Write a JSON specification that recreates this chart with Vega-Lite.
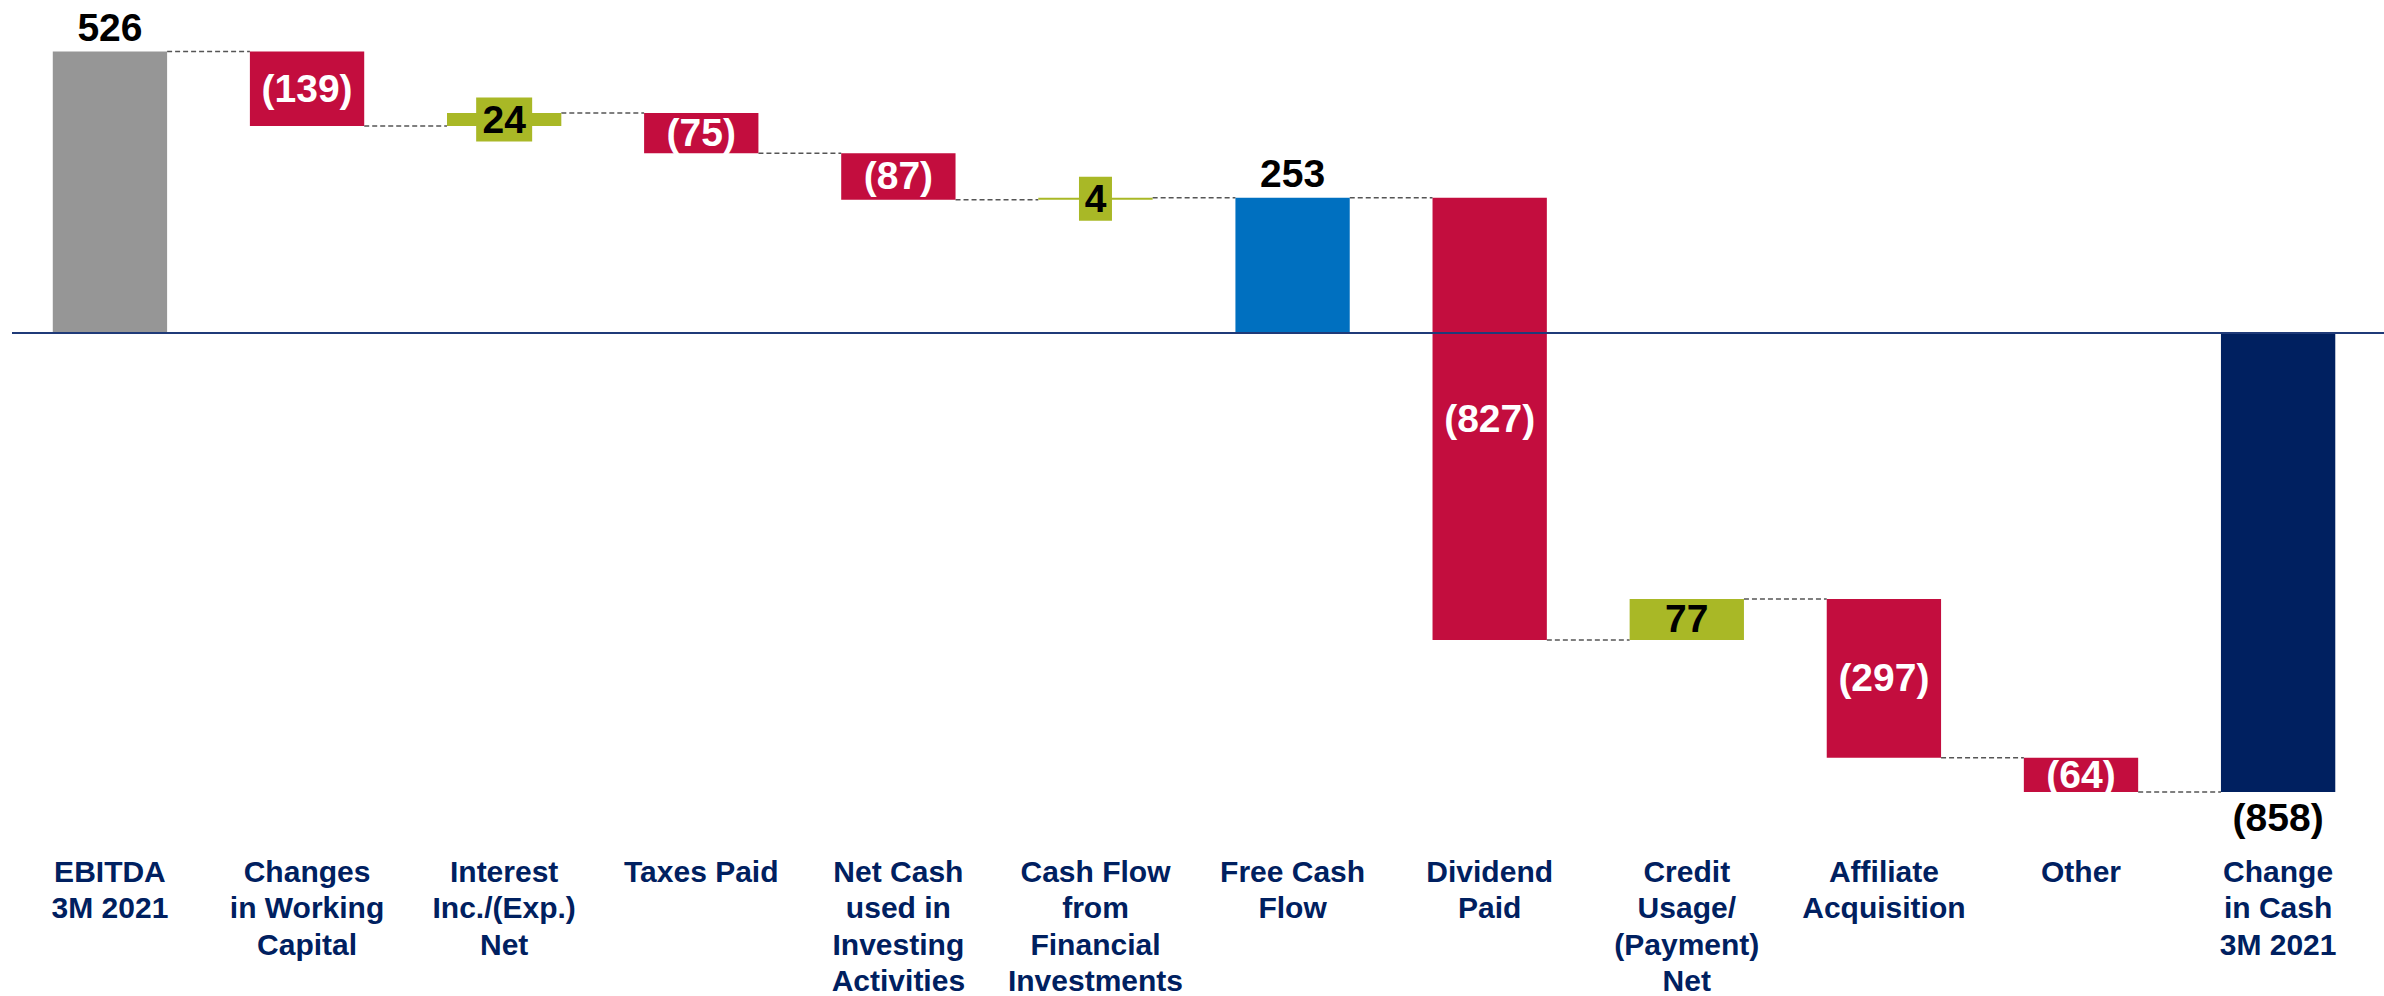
{
  "$schema": "https://vega.github.io/schema/vega-lite/v6.json",
  "width": 2384,
  "height": 840,
  "padding": 0,
  "autosize": {"type": "pad"},
  "background": "white",
  "config": {"view": {"stroke": null}},
  "datasets": {
    "bars": [
      {"cat": "EBITDA|3M 2021", "start": 0, "end": 526, "kind": "ebitda", "label": "526", "lpos": "above"},
      {"cat": "Changes|in Working|Capital", "start": 526, "end": 387, "kind": "neg", "label": "(139)", "lpos": "inside"},
      {"cat": "Interest|Inc./(Exp.)|Net", "start": 387, "end": 411, "kind": "pos", "label": "24", "lpos": "inside"},
      {"cat": "Taxes Paid", "start": 411, "end": 336, "kind": "neg", "label": "(75)", "lpos": "inside"},
      {"cat": "Net Cash|used in|Investing|Activities", "start": 336, "end": 249, "kind": "neg", "label": "(87)", "lpos": "inside"},
      {"cat": "Cash Flow|from|Financial|Investments", "start": 249, "end": 253, "kind": "pos", "label": "4", "lpos": "inside"},
      {"cat": "Free Cash|Flow", "start": 0, "end": 253, "kind": "fcf", "label": "253", "lpos": "above"},
      {"cat": "Dividend|Paid", "start": 253, "end": -574, "kind": "neg", "label": "(827)", "lpos": "inside"},
      {"cat": "Credit|Usage/|(Payment)|Net", "start": -574, "end": -497, "kind": "pos", "label": "77", "lpos": "inside"},
      {"cat": "Affiliate|Acquisition", "start": -497, "end": -794, "kind": "neg", "label": "(297)", "lpos": "inside"},
      {"cat": "Other", "start": -794, "end": -858, "kind": "neg", "label": "(64)", "lpos": "inside"},
      {"cat": "Change|in Cash|3M 2021", "start": 0, "end": -858, "kind": "change", "label": "(858)", "lpos": "below"}
    ],
    "conn": [
      {"from": "EBITDA|3M 2021", "to": "Changes|in Working|Capital", "level": 526},
      {"from": "Changes|in Working|Capital", "to": "Interest|Inc./(Exp.)|Net", "level": 387},
      {"from": "Interest|Inc./(Exp.)|Net", "to": "Taxes Paid", "level": 411},
      {"from": "Taxes Paid", "to": "Net Cash|used in|Investing|Activities", "level": 336},
      {"from": "Net Cash|used in|Investing|Activities", "to": "Cash Flow|from|Financial|Investments", "level": 249},
      {"from": "Cash Flow|from|Financial|Investments", "to": "Free Cash|Flow", "level": 253},
      {"from": "Free Cash|Flow", "to": "Dividend|Paid", "level": 253},
      {"from": "Dividend|Paid", "to": "Credit|Usage/|(Payment)|Net", "level": -574},
      {"from": "Credit|Usage/|(Payment)|Net", "to": "Affiliate|Acquisition", "level": -497},
      {"from": "Affiliate|Acquisition", "to": "Other", "level": -794},
      {"from": "Other", "to": "Change|in Cash|3M 2021", "level": -858}
    ]
  },
  "encoding": {
    "x": {
      "field": "cat",
      "type": "nominal",
      "scale": {
        "domain": ["EBITDA|3M 2021", "Changes|in Working|Capital", "Interest|Inc./(Exp.)|Net", "Taxes Paid", "Net Cash|used in|Investing|Activities", "Cash Flow|from|Financial|Investments", "Free Cash|Flow", "Dividend|Paid", "Credit|Usage/|(Payment)|Net", "Affiliate|Acquisition", "Other", "Change|in Cash|3M 2021"],
        "paddingInner": 0.42,
        "paddingOuter": 0.2575,
        "align": 0.52
      },
      "axis": {
        "title": null,
        "labelAngle": 0,
        "labelExpr": "split(datum.value, '|')",
        "labelFont": "Liberation Sans",
        "labelFontWeight": "bold",
        "labelFontSize": 30,
        "labelColor": "#002060",
        "labelLineHeight": 36.5,
        "labelPadding": 17,
        "labelLimit": 0,
        "labelOverlap": false,
        "labelBaseline": "top",
        "ticks": false,
        "domain": false,
        "grid": false
      }
    }
  },
  "layer": [
    {
      "data": {"name": "conn"},
      "mark": {"type": "rule", "color": "#555555", "strokeWidth": 1.5, "strokeDash": [5, 3]},
      "encoding": {
        "x": {"field": "from", "type": "nominal", "bandPosition": 1},
        "x2": {"field": "to", "bandPosition": 0},
        "y": {"field": "level", "type": "quantitative", "scale": {"domain": [-947.7, 622.4], "nice": false, "zero": false}, "axis": null}
      }
    },
    {
      "data": {"name": "bars"},
      "mark": {"type": "bar"},
      "encoding": {
        "y": {"field": "start", "type": "quantitative"},
        "y2": {"field": "end"},
        "color": {
          "field": "kind",
          "type": "nominal",
          "scale": {"domain": ["ebitda", "neg", "pos", "fcf", "change"], "range": ["#969696", "#C30D3E", "#A9B826", "#0070C0", "#002060"]},
          "legend": null
        }
      }
    },
    {
      "data": {"name": "bars"},
      "transform": [{"filter": "datum.label == '24'"}, {"calculate": "(datum.start + datum.end) / 2", "as": "mid"}],
      "mark": {"type": "point", "filled": true, "opacity": 1, "color": "#A9B826", "size": 1936, "shape": "M-1.2727,-1H1.2727V1H-1.2727Z"},
      "encoding": {"y": {"field": "mid", "type": "quantitative"}}
    },
    {
      "data": {"name": "bars"},
      "transform": [{"filter": "datum.label == '4'"}, {"calculate": "(datum.start + datum.end) / 2", "as": "mid"}],
      "mark": {"type": "point", "filled": true, "opacity": 1, "color": "#A9B826", "size": 1936, "shape": "M-0.75,-1H0.75V1H-0.75Z"},
      "encoding": {"y": {"field": "mid", "type": "quantitative"}}
    },
    {
      "data": {"name": "bars"},
      "transform": [{"filter": "datum.lpos == 'inside'"}, {"calculate": "(datum.start + datum.end) / 2", "as": "mid"}],
      "mark": {"type": "text", "font": "Liberation Sans", "fontWeight": "bold", "fontSize": 39, "baseline": "middle", "align": "center", "dy": 1},
      "encoding": {
        "y": {"field": "mid", "type": "quantitative"},
        "text": {"field": "label"},
        "color": {"condition": {"test": "datum.kind == 'neg'", "value": "#ffffff"}, "value": "#000000"}
      }
    },
    {
      "data": {"name": "bars"},
      "transform": [{"filter": "datum.lpos == 'above'"}],
      "mark": {"type": "text", "font": "Liberation Sans", "fontWeight": "bold", "fontSize": 39, "baseline": "alphabetic", "align": "center", "dy": -11, "color": "#000000"},
      "encoding": {
        "y": {"field": "end", "type": "quantitative"},
        "text": {"field": "label"}
      }
    },
    {
      "data": {"name": "bars"},
      "transform": [{"filter": "datum.lpos == 'below'"}],
      "mark": {"type": "text", "font": "Liberation Sans", "fontWeight": "bold", "fontSize": 39, "baseline": "top", "align": "center", "dy": 8, "color": "#000000"},
      "encoding": {
        "y": {"field": "end", "type": "quantitative"},
        "text": {"field": "label"}
      }
    },
    {
      "data": {"values": [{"v": 0}]},
      "mark": {"type": "rule", "color": "#1F3A78", "strokeWidth": 2},
      "encoding": {"y": {"field": "v", "type": "quantitative"}, "x": {"value": 12}, "x2": {"value": 2384}}
    }
  ]
}
